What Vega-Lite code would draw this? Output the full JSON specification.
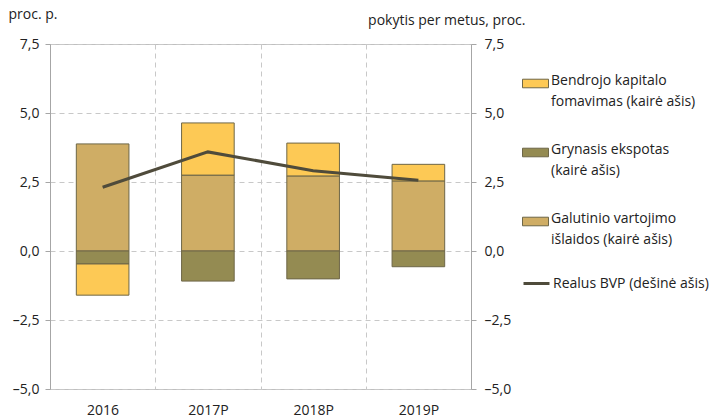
{
  "$schema": "https://vega.github.io/schema/vega-lite/v6.json",
  "width": 421,
  "height": 345,
  "autosize": "none",
  "padding": {"left": 50, "top": 44, "right": 239, "bottom": 29},
  "background": "white",
  "config": {
    "font": "Open Sans",
    "view": {"stroke": "#bfbfbf", "strokeWidth": 1},
    "axis": {
      "labelFont": "Open Sans", "labelFontSize": 14, "labelColor": "#222",
      "titleFont": "Open Sans", "titleFontSize": 14, "titleFontWeight": "normal", "titleColor": "#222",
      "domainColor": "#a6a6a6", "tickColor": "#a6a6a6",
      "gridColor": "#c8c8c8", "gridDash": [5, 4], "gridWidth": 1
    },
    "legend": {
      "labelFont": "Open Sans", "labelFontSize": 14, "labelColor": "#222", "labelLimit": 300,
      "padding": 0
    }
  },
  "datasets": {
    "bars": [
      {"year": "2016", "component": "Galutinio vartojimo|išlaidos (kairė ašis)", "ord": 1, "value": 3.88},
      {"year": "2016", "component": "Grynasis ekspotas|(kairė ašis)", "ord": 2, "value": -0.47},
      {"year": "2016", "component": "Bendrojo kapitalo|fomavimas (kairė ašis)", "ord": 3, "value": -1.13},
      {"year": "2017P", "component": "Galutinio vartojimo|išlaidos (kairė ašis)", "ord": 1, "value": 2.75},
      {"year": "2017P", "component": "Grynasis ekspotas|(kairė ašis)", "ord": 2, "value": -1.09},
      {"year": "2017P", "component": "Bendrojo kapitalo|fomavimas (kairė ašis)", "ord": 3, "value": 1.89},
      {"year": "2018P", "component": "Galutinio vartojimo|išlaidos (kairė ašis)", "ord": 1, "value": 2.72},
      {"year": "2018P", "component": "Grynasis ekspotas|(kairė ašis)", "ord": 2, "value": -1.01},
      {"year": "2018P", "component": "Bendrojo kapitalo|fomavimas (kairė ašis)", "ord": 3, "value": 1.19},
      {"year": "2019P", "component": "Galutinio vartojimo|išlaidos (kairė ašis)", "ord": 1, "value": 2.54},
      {"year": "2019P", "component": "Grynasis ekspotas|(kairė ašis)", "ord": 2, "value": -0.57},
      {"year": "2019P", "component": "Bendrojo kapitalo|fomavimas (kairė ašis)", "ord": 3, "value": 0.6}
    ],
    "gdp": [
      {"year": "2016", "gdp": 2.31},
      {"year": "2017P", "gdp": 3.59},
      {"year": "2018P", "gdp": 2.91},
      {"year": "2019P", "gdp": 2.56}
    ]
  },
  "layer": [
    {
      "data": {"name": "bars"},
      "mark": {"type": "bar", "width": {"band": 0.5}, "stroke": "#6e6748", "strokeWidth": 1},
      "encoding": {
        "x": {
          "field": "year", "type": "ordinal", "title": null,
          "scale": {"paddingInner": 0, "paddingOuter": 0},
          "axis": {"labelAngle": 0, "ticks": false, "tickBand": "extent", "grid": true, "domain": false, "labelPadding": 14}
        },
        "y": {
          "field": "value", "type": "quantitative", "stack": "zero",
          "scale": {"domain": [-5, 7.5], "nice": false},
          "axis": {
            "values": [-5, -2.5, 0, 2.5, 5, 7.5],
            "labelExpr": "replace(replace(replace(format(datum.value, '.1f'), '.', ','), '-', '–'), '−', '–')",
            "tickSize": 5, "labelPadding": 6,
            "title": "proc. p.", "titleAngle": 0, "titleAlign": "left", "titleBaseline": "middle",
            "titleX": -42, "titleY": -30
          }
        },
        "color": {
          "field": "component", "type": "nominal",
          "scale": {
            "domain": ["Bendrojo kapitalo|fomavimas (kairė ašis)", "Grynasis ekspotas|(kairė ašis)", "Galutinio vartojimo|išlaidos (kairė ašis)"],
            "range": ["#fdc955", "#948b52", "#cfad65"]
          },
          "legend": {
            "title": null, "orient": "none", "legendX": 472, "legendY": 26,
            "symbolType": "M-1,-0.33H1V0.33H-1Z", "symbolSize": 676,
            "symbolStrokeColor": "#6e6748", "symbolStrokeWidth": 1,
            "labelExpr": "split(datum.label, '|')",
            "labelBaseline": "top", "labelOffset": 2, "rowPadding": 30,
            "encode": {"labels": {"update": {"dy": {"value": -10}, "lineHeight": {"value": 21}}}}
          }
        },
        "order": {"field": "ord", "type": "quantitative"}
      }
    },
    {
      "mark": {"type": "rule", "color": "#c0c0c0", "strokeWidth": 2},
      "encoding": {
        "y": {"datum": 0, "type": "quantitative", "scale": {"domain": [-5, 7.5], "nice": false}, "axis": null}
      }
    },
    {
      "data": {"name": "gdp"},
      "mark": {"type": "line", "strokeWidth": 3},
      "encoding": {
        "x": {"field": "year", "type": "ordinal"},
        "y": {
          "field": "gdp", "type": "quantitative",
          "scale": {"domain": [-5, 7.5], "nice": false},
          "axis": {
            "orient": "right", "grid": false,
            "values": [-5, -2.5, 0, 2.5, 5, 7.5],
            "labelExpr": "replace(replace(replace(format(datum.value, '.1f'), '.', ','), '-', '–'), '−', '–')",
            "tickSize": 5, "labelPadding": 8,
            "title": "pokytis per metus, proc.", "titleAngle": 0, "titleAlign": "right", "titleBaseline": "middle",
            "titleX": 54, "titleY": -24
          }
        },
        "stroke": {
          "datum": "Realus BVP (dešinė ašis)",
          "scale": {"range": ["#4f4b3b"]},
          "legend": {
            "title": null, "orient": "none", "legendX": 472, "legendY": 225,
            "symbolType": "stroke", "symbolSize": 676, "symbolStrokeWidth": 3, "labelOffset": 2
          }
        }
      }
    }
  ],
  "resolve": {"scale": {"y": "independent", "color": "independent", "stroke": "independent"}}
}
